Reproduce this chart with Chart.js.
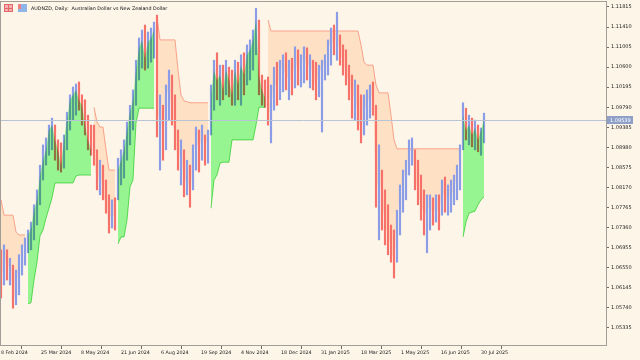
<!DOCTYPE html>
<html>
<head>
<meta charset="utf-8">
<style>
  html, body { margin: 0; padding: 0; background: #fdf5e8; }
</style>
<script src="https://cdn.jsdelivr.net/npm/chart.js@4"></script>
</head>
<body>
<canvas id="chart" width="640" height="360"></canvas>
<script>
const symbolTitle = 'AUDNZD, Daily:  Australian Dollar vs New Zealand Dollar';

// date labels, one every 32 trading days
const xTickLabels = ['8 Feb 2024', '25 Mar 2024', '8 May 2024', '21 Jun 2024', '6 Aug 2024', '19 Sep 2024',
  '4 Nov 2024', '18 Dec 2024', '31 Jan 2025', '18 Mar 2025', '1 May 2025', '16 Jun 2025', '30 Jul 2025'];

const yTicks = [1.11815, 1.11410, 1.11005, 1.10600, 1.10195, 1.09790, 1.09385, 1.08980, 1.08575,
  1.08170, 1.07765, 1.07360, 1.06955, 1.06550, 1.06145, 1.05740, 1.05335];

// candles (each bar ~2.4 trading days)
const highs = [
  1.0691, 1.0701, 1.0691, 1.0674, 1.0660, 1.0650, 1.0681, 1.0701, 1.0715,
  1.0731, 1.0747, 1.0782, 1.0812, 1.0862, 1.0903, 1.0917, 1.0943, 1.0957, 1.0943, 1.0913, 1.0907, 1.0923, 1.0969, 1.1004, 1.1020, 1.1026, 1.1030, 1.1004, 1.0994, 1.0963, 1.0943,
  1.0943, 1.0893, 1.0872, 1.0862, 1.0832, 1.0802, 1.0792, 1.0796,
  1.0876, 1.0893, 1.0913, 1.0949, 1.0983, 1.1014, 1.1074, 1.1119, 1.1135, 1.1145, 1.1131, 1.1139, 1.1151,
  1.1165, 1.1004, 1.0983, 1.1024, 1.1054, 1.1044, 1.1004, 1.0933, 1.0913, 1.0893, 1.0872, 1.0862, 1.0903, 1.0939, 1.0933, 1.0943, 1.0923, 1.0933,
  1.1024, 1.1074, 1.1089, 1.1064, 1.1064, 1.1074, 1.1060, 1.1054, 1.1074, 1.1070, 1.1085, 1.1089, 1.1105, 1.1115, 1.1135, 1.1179, 1.1155, 1.1044, 1.1034,
  1.1040, 1.1024, 1.1060, 1.1070, 1.1074, 1.1085, 1.1089, 1.1074, 1.1078, 1.1101, 1.1095, 1.1085, 1.1101, 1.1099, 1.1085, 1.1074,
  1.1070, 1.1064, 1.1074, 1.1085, 1.1115, 1.1139, 1.1145, 1.1171, 1.1125, 1.1105, 1.1095, 1.1064, 1.1044, 1.1034, 1.1024, 1.1004,
  1.1004, 1.1014, 1.1024, 1.1030, 1.0983, 1.0903, 1.0852, 1.0812, 1.0782, 1.0741, 1.0731, 1.0771, 1.0822, 1.0852, 1.0872, 1.0913, 1.0917,
  1.0893, 1.0872, 1.0842, 1.0812, 1.0802, 1.0802, 1.0796, 1.0802, 1.0802, 1.0832, 1.0838, 1.0822, 1.0832, 1.0842, 1.0862, 1.0903,
  1.0988, 1.0977, 1.0963, 1.0957, 1.0953, 1.0943, 1.0937, 1.0967
];
const lows = [
  1.0594, 1.0620, 1.0630, 1.0620, 1.0573, 1.0580, 1.0600, 1.0640, 1.0660,
  1.0685, 1.0691, 1.0711, 1.0741, 1.0782, 1.0832, 1.0862, 1.0882, 1.0893, 1.0872, 1.0852, 1.0848, 1.0856, 1.0893, 1.0933, 1.0953, 1.0963, 1.0973, 1.0943, 1.0923, 1.0893, 1.0882,
  1.0862, 1.0812, 1.0802, 1.0792, 1.0765, 1.0725, 1.0735, 1.0731,
  1.0792, 1.0822, 1.0836, 1.0872, 1.0903, 1.0933, 1.0983, 1.1034, 1.1058, 1.1054, 1.1058, 1.1070, 1.1078,
  1.0919, 1.0852, 1.0872, 1.0893, 1.0953, 1.0943, 1.0893, 1.0852, 1.0822, 1.0798, 1.0802, 1.0777, 1.0812, 1.0852, 1.0848, 1.0872, 1.0862, 1.0866,
  1.0923, 1.0973, 1.0994, 1.0983, 1.0994, 1.1004, 1.1000, 1.0983, 1.0983, 1.0994, 1.0983, 1.1004, 1.1024, 1.1034, 1.1054, 1.1085, 1.1004, 1.0983, 1.0979,
  1.0943, 1.0907, 1.0973, 1.0983, 1.0994, 1.1010, 1.1014, 1.0994, 1.1004, 1.1018, 1.1024, 1.1020, 1.1028, 1.1034, 1.1018, 1.1014,
  1.0994, 1.1000, 1.0929, 1.1034, 1.1044, 1.1064, 1.1085, 1.1074, 1.1064, 1.1044, 1.1024, 1.0994, 1.0957, 1.0953, 1.0933, 1.0907,
  1.0923, 1.0943, 1.0957, 1.0963, 1.0777, 1.0711, 1.0731, 1.0701, 1.0681, 1.0666, 1.0634, 1.0666, 1.0721, 1.0767, 1.0792, 1.0842, 1.0862,
  1.0812, 1.0782, 1.0751, 1.0721, 1.0685, 1.0731, 1.0741, 1.0747, 1.0731, 1.0761, 1.0767, 1.0761, 1.0767, 1.0782, 1.0792, 1.0812,
  1.0893, 1.0913, 1.0903, 1.0899, 1.0893, 1.0889, 1.0882, 1.0907
];
const closes = [
  1.0610, 1.0681, 1.0650, 1.0666, 1.0590, 1.0600, 1.0666, 1.0691, 1.0707,
  1.0721, 1.0735, 1.0771, 1.0792, 1.0842, 1.0872, 1.0893, 1.0933, 1.0943, 1.0913, 1.0893, 1.0862, 1.0913, 1.0953, 1.0994, 1.1004, 1.1014, 1.0994, 1.0983, 1.0943, 1.0913, 1.0893,
  1.0872, 1.0822, 1.0852, 1.0802, 1.0782, 1.0741, 1.0771, 1.0751,
  1.0852, 1.0872, 1.0893, 1.0933, 1.0969, 1.0994, 1.1054, 1.1099, 1.1115, 1.1078, 1.1111, 1.1119, 1.1135,
  1.0953, 1.0973, 1.0913, 1.1004, 1.1014, 1.0973, 1.0913, 1.0872, 1.0893, 1.0822, 1.0842, 1.0792, 1.0882, 1.0913, 1.0893, 1.0923, 1.0903, 1.0913,
  1.1004, 1.1054, 1.1034, 1.1044, 1.1014, 1.1054, 1.1034, 1.1004, 1.1054, 1.1024, 1.1064, 1.1044, 1.1085, 1.1095, 1.1115, 1.1155, 1.1044, 1.1014, 1.0998,
  1.0963, 1.0973, 1.1034, 1.1014, 1.1054, 1.1064, 1.1034, 1.1044, 1.1024, 1.1085, 1.1044, 1.1064, 1.1085, 1.1054, 1.1070, 1.1034,
  1.1024, 1.1050, 1.1054, 1.1074, 1.1095, 1.1115, 1.1105, 1.1125, 1.1085, 1.1074, 1.1044, 1.1034, 1.0994, 1.1004, 1.0953, 1.0933,
  1.0973, 1.0983, 1.1004, 1.0994, 1.0802, 1.0842, 1.0792, 1.0741, 1.0721, 1.0691, 1.0660, 1.0751, 1.0802, 1.0832, 1.0852, 1.0889, 1.0893,
  1.0842, 1.0802, 1.0782, 1.0761, 1.0771, 1.0782, 1.0761, 1.0782, 1.0761, 1.0812, 1.0792, 1.0796, 1.0802, 1.0812, 1.0842, 1.0893,
  1.0963, 1.0933, 1.0943, 1.0923, 1.0937, 1.0913, 1.0933, 1.09539
];

// trailing stop above price (down trend)
const upperStop = [
  1.0792, 1.0761, 1.0761, 1.0761, 1.0761, 1.0727, 1.0721, 1.0721, 1.0721,
  null, null, null, null, null, null, null, null, null, null, null, null, null, null, null, null, null, null, null, null, null, null,
  1.0979, 1.0949, 1.0939, 1.0939, 1.0893, 1.0852, 1.0852, 1.0852,
  null, null, null, null, null, null, null, null, null, null, null, null, null,
  1.1161, 1.1115, 1.1115, 1.1115, 1.1115, 1.1115, 1.1115, 1.1054, 1.1004, 1.0992, 1.0990, 1.0988, 1.0988, 1.0988, 1.0988, 1.0988, 1.0988, 1.0988,
  null, null, null, null, null, null, null, null, null, null, null, null, null, null, null, null, null, null, null,
  1.1155, 1.1133, 1.1133, 1.1133, 1.1133, 1.1133, 1.1133, 1.1133, 1.1133, 1.1133, 1.1133, 1.1133, 1.1133, 1.1133, 1.1133, 1.1133,
  1.1133, 1.1133, 1.1133, 1.1133, 1.1133, 1.1133, 1.1133, 1.1133, 1.1133, 1.1133, 1.1133, 1.1133, 1.1133, 1.1133, 1.1133, 1.1105,
  1.1070, 1.1064, 1.1064, 1.1064, 1.1024, 1.1008, 1.1008, 1.1008, 1.1008, 1.0963, 1.0913, 1.0895, 1.0895, 1.0895, 1.0895, 1.0895, 1.0895,
  1.0895, 1.0895, 1.0895, 1.0895, 1.0895, 1.0895, 1.0895, 1.0895, 1.0895, 1.0895, 1.0895, 1.0895, 1.0895, 1.0895, 1.0895, 1.0895,
  null, null, null, null, null, null, null, null
];

// trailing stop below price (up trend)
const lowerStop = [
  null, null, null, null, null, null, null, null, null,
  1.0582, 1.0584, 1.0630, 1.0666, 1.0719, 1.0731, 1.0755, 1.0775, 1.0796, 1.0826, 1.0826, 1.0826, 1.0826, 1.0826, 1.0826, 1.0826, 1.0840, 1.0842, 1.0842, 1.0842, 1.0842, 1.0842,
  null, null, null, null, null, null, null, null,
  1.0703, 1.0717, 1.0717, 1.0751, 1.0818, 1.0832, 1.0947, 1.0977, 1.0977, 1.0977, 1.0977, 1.0977, 1.0977,
  null, null, null, null, null, null, null, null, null, null, null, null, null, null, null, null, null, null,
  1.0775, 1.0832, 1.0842, 1.0866, 1.0868, 1.0868, 1.0868, 1.0913, 1.0913, 1.0913, 1.0913, 1.0913, 1.0913, 1.0913, 1.0913, 1.0943, 1.0979, 1.0979, 1.0979,
  null, null, null, null, null, null, null, null, null, null, null, null, null, null, null, null,
  null, null, null, null, null, null, null, null, null, null, null, null, null, null, null, null,
  null, null, null, null, null, null, null, null, null, null, null, null, null, null, null, null, null,
  null, null, null, null, null, null, null, null, null, null, null, null, null, null, null, null,
  1.0717, 1.0747, 1.0765, 1.0767, 1.0769, 1.0782, 1.0792, 1.0798
];

const DAYS_PER_BAR = 2.4;
const TICK_EVERY = 32;
const yMin = 1.04987;
const yMax = 1.11916;

const bullColor = '#8b9de6';
const bearColor = '#f6716a';
const peachFill = '#fee0c4';
const greenFill = '#97ff9e';
const FONT = 'DejaVu Sans';

const days = closes.map((_, i) => i * DAYS_PER_BAR);
const candleColors = closes.map((c, i) => (i > 0 && c > closes[i - 1]) ? bullColor : bearColor);
const lastPrice = closes[closes.length - 1];

// green band is tinted over the candles, like the terminal does
const blendPlugin = {
  id: 'blend',
  afterDatasetDraw(chart, args) {
    if (args.index === 1) chart.ctx.globalCompositeOperation = 'multiply';
    if (args.index === 2) chart.ctx.globalCompositeOperation = 'source-over';
  }
};

const decorPlugin = {
  id: 'decor',
  beforeDraw(chart) {
    const ctx = chart.ctx;
    ctx.save();
    ctx.fillStyle = '#fdf5e8';
    ctx.fillRect(0, 0, chart.width, chart.height);
    ctx.restore();
  },
  afterDatasetsDraw(chart) {
    const ctx = chart.ctx;
    const area = chart.chartArea;
    const y = Math.round(chart.scales.y.getPixelForValue(lastPrice)) + 0.5;
    ctx.save();
    ctx.strokeStyle = '#b9c3d6';
    ctx.lineWidth = 1;
    ctx.beginPath();
    ctx.moveTo(area.left, y);
    ctx.lineTo(area.right, y);
    ctx.stroke();
    ctx.restore();
  },
  afterDraw(chart) {
    const ctx = chart.ctx;
    const area = chart.chartArea;
    ctx.save();
    // frame
    ctx.strokeStyle = '#a29d96';
    ctx.lineWidth = 1;
    ctx.strokeRect(area.left - 0.5, area.top - 0.5, area.right - area.left + 1, area.bottom - area.top + 1);

    // last price box on the axis
    const y = Math.round(chart.scales.y.getPixelForValue(lastPrice));
    ctx.fillStyle = '#8e9fc8';
    ctx.fillRect(area.right + 1, y - 4, 26, 8);
    ctx.fillStyle = '#ffffff';
    ctx.font = '5px "' + FONT + '"';
    ctx.textBaseline = 'middle';
    ctx.textAlign = 'left';
    ctx.fillText(lastPrice.toFixed(5), area.right + 4, y + 0.5);

    // title icons
    ctx.fillStyle = '#f6b0b0';
    ctx.fillRect(4, 4, 9, 8);
    ctx.strokeStyle = '#e06868';
    ctx.strokeRect(4.5, 4.5, 8, 7);
    ctx.beginPath();
    ctx.moveTo(8.5, 4.5); ctx.lineTo(8.5, 11.5);
    ctx.moveTo(4.5, 8.5); ctx.lineTo(12.5, 8.5);
    ctx.stroke();
    ctx.fillStyle = '#8fb4e8';
    ctx.fillRect(18, 4, 9, 8);
    ctx.fillStyle = '#f08080';
    ctx.fillRect(18, 4, 3, 5);

    // title
    ctx.fillStyle = '#111111';
    ctx.font = '4.8px "' + FONT + '"';
    ctx.fillText(symbolTitle, 31, 8.5);
    ctx.restore();
  }
};

new Chart(document.getElementById('chart'), {
  type: 'bar',
  data: {
    datasets: [
      {
        type: 'line',
        label: 'Stop above',
        data: days.map((x, i) => ({ x, y: upperStop[i] })),
        borderColor: '#f9a28a',
        borderWidth: 1,
        pointRadius: 0,
        tension: 0,
        spanGaps: false,
        fill: { target: 3, above: peachFill, below: peachFill },
        order: 3
      },
      {
        type: 'bar',
        label: 'AUDNZD',
        data: days.map((x, i) => ({ x, y: [lows[i], highs[i]] })),
        backgroundColor: candleColors,
        borderWidth: 0,
        barThickness: 1.5,
        order: 2
      },
      {
        type: 'line',
        label: 'Stop below',
        data: days.map((x, i) => ({ x, y: lowerStop[i] })),
        borderColor: '#6fe070',
        borderWidth: 1,
        pointRadius: 0,
        tension: 0,
        spanGaps: false,
        fill: { target: 3, above: greenFill, below: greenFill },
        order: 1
      },
      {
        type: 'line',
        label: 'Close',
        data: days.map((x, i) => ({ x, y: closes[i] })),
        borderColor: 'rgba(0,0,0,0)',
        borderWidth: 0,
        pointRadius: 0,
        fill: false,
        order: 0
      }
    ]
  },
  options: {
    responsive: false,
    animation: false,
    devicePixelRatio: 1,
    layout: { padding: { left: 1, top: 2, right: 0, bottom: 0 } },
    plugins: {
      legend: { display: false },
      tooltip: { enabled: false },
      title: { display: false }
    },
    scales: {
      x: {
        type: 'linear',
        min: 0,
        max: 484,
        offset: false,
        border: { display: false },
        grid: { drawOnChartArea: false, drawTicks: true, tickLength: 4, color: '#6f6a66' },
        afterBuildTicks: (s) => { s.ticks = xTickLabels.map((_, k) => ({ value: k * TICK_EVERY })); },
        afterFit: (s) => { s.height = 15; s.paddingLeft = 0; s.paddingRight = 0; },
        ticks: {
          autoSkip: false,
          maxRotation: 0,
          align: 'start',
          padding: 1,
          color: '#222222',
          font: { family: FONT, size: 4.8 },
          callback: (v, i) => xTickLabels[i]
        }
      },
      y: {
        position: 'right',
        min: yMin,
        max: yMax,
        border: { display: false },
        grid: { drawOnChartArea: false, drawTicks: true, tickLength: 3, color: '#6f6a66' },
        afterBuildTicks: (s) => { s.ticks = yTicks.map(v => ({ value: v })); },
        afterFit: (s) => { s.width = 34; s.paddingTop = 0; s.paddingBottom = 0; },
        ticks: {
          autoSkip: false,
          padding: 2,
          color: '#222222',
          font: { family: FONT, size: 5 },
          callback: (v) => v.toFixed(5)
        }
      }
    }
  },
  plugins: [blendPlugin, decorPlugin]
});
</script>
</body>
</html>
